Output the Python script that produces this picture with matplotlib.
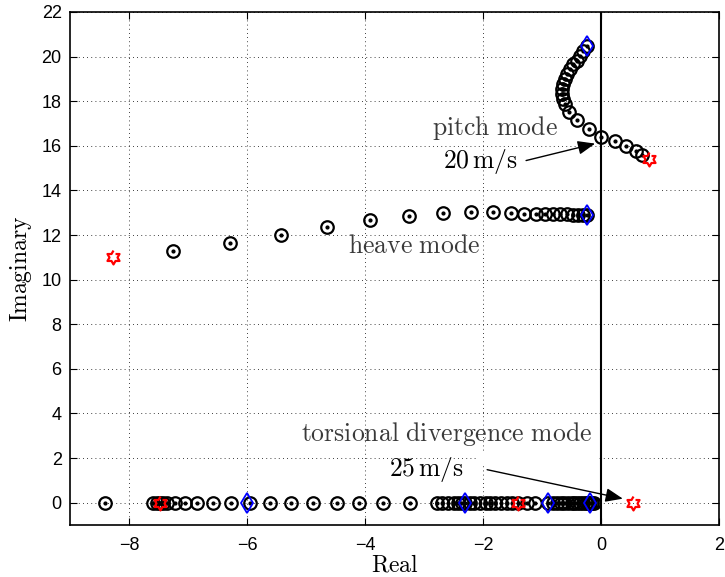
import matplotlib.pyplot as plt
import numpy as np

plt.rcParams['mathtext.fontset'] = 'cm'
plt.rcParams['font.family'] = ['Liberation Sans', 'DejaVu Sans']

# pitch mode root locus
pitch_re = [-0.24, -0.31, -0.36, -0.41, -0.47, -0.53, -0.58, -0.61, -0.64, -0.66,
            -0.66, -0.64, -0.61, -0.54, -0.41, -0.20, 0.0, 0.24, 0.42, 0.59, 0.69]
pitch_im = [20.49, 20.27, 20.04, 19.82, 19.69, 19.46, 19.24, 19.01, 18.79, 18.57,
            18.34, 18.12, 17.89, 17.53, 17.17, 16.77, 16.41, 16.23, 16.01, 15.78, 15.61]

# heave mode root locus
heave_re = [-7.25, -6.29, -5.42, -4.64, -3.92, -3.25, -2.68, -2.20, -1.83, -1.53,
            -1.31, -1.10, -0.95, -0.81, -0.69, -0.58, -0.47, -0.39, -0.31, -0.24]
heave_im = [11.30, 11.66, 12.02, 12.38, 12.69, 12.87, 13.00, 13.05, 13.05, 13.00,
            12.96, 12.96, 12.95, 12.94, 12.94, 12.93, 12.92, 12.92, 12.91, 12.91]

# real roots (torsional divergence and aerodynamic lag states)
real_re = [-8.41, -7.59, -7.53, -7.47, -7.42, -7.36, -7.22, -7.05, -6.85, -6.58,
           -6.27, -5.95, -5.61, -5.25, -4.88, -4.47, -4.10, -3.69, -3.24, -2.78,
           -2.69, -2.60, -2.50, -2.42, -2.36, -2.30, -2.22, -2.15, -2.05, -1.95,
           -1.88, -1.80, -1.70, -1.60, -1.51, -1.41, -1.25, -1.12, -0.90, -0.81,
           -0.75, -0.68, -0.62, -0.56, -0.50, -0.45, -0.40, -0.35, -0.30, -0.26,
           -0.22, -0.19, -0.15, -0.12]
real_im = [0.0] * len(real_re)

# start (V = 0) and end points of the loci
start_re = [-0.24, -0.24, -6.0, -2.3, -0.9, -0.19]
start_im = [20.49, 12.91, 0.0, 0.0, 0.0, 0.0]
end_re = [0.81, -8.27, -7.47, -1.41, 0.54]
end_im = [15.43, 11.03, 0.0, 0.0, 0.0]

# six pointed star marker
ang = np.deg2rad(90 + 30 * np.arange(12))
rad = np.where(np.arange(12) % 2 == 0, 1.0, 0.58)
hexagram = list(zip(rad * np.cos(ang), rad * np.sin(ang)))

fig = plt.figure(figsize=(7.25, 5.77), dpi=100)
ax = fig.add_axes([70 / 725, 1 - 525 / 577, 649 / 725, 513 / 577])

ax.axvline(0, color='k', lw=1.5, zorder=2.5)

for re, im in [(pitch_re, pitch_im), (heave_re, heave_im), (real_re, real_im)]:
    ax.plot(re, im, 'o', mfc='none', mec='k', ms=9, mew=1.6, zorder=3)
    ax.plot(re, im, '.', color='k', ms=4, zorder=3)

ax.plot(start_re, start_im, 'd', mfc='none', mec='b', ms=10, mew=1.3, zorder=4)
ax.plot(end_re, end_im, marker=hexagram, ls='none', mfc='none', mec='r',
        ms=10, mew=1.6, zorder=4)

ax.set_xlim(-9, 2)
ax.set_ylim(-1, 22)
ax.set_xticks(np.arange(-8, 3, 2))
ax.set_yticks(np.arange(0, 23, 2))
ax.tick_params(direction='in', top=True, right=True, labelsize=13, length=5)
ax.tick_params(axis='x', pad=9)
ax.tick_params(axis='y', pad=6)
ax.grid(True, color='k', ls=(0, (1, 4)), lw=0.6)
for s in ax.spines.values():
    s.set_linewidth(1.2)

ax.set_xlabel(r'$\mathrm{Real}$', fontsize=17)
ax.set_ylabel(r'$\mathrm{Imaginary}$', fontsize=17)
ax.xaxis.set_label_coords(0.5, -0.058)
ax.yaxis.set_label_coords(-0.055, 0.5)

gray = '#3a3a3a'
ax.text(-1.8, 16.8, r'$\mathrm{pitch\ mode}$', fontsize=18.5, color=gray,
        ha='center', va='center')
ax.text(-3.17, 11.5, r'$\mathrm{heave\ mode}$', fontsize=18.5, color=gray,
        ha='center', va='center')
ax.text(-2.61, 3.1, r'$\mathrm{torsional\ divergence\ mode}$', fontsize=18.5,
        color=gray, ha='center', va='center', zorder=5)
ax.text(-2.05, 15.3, r'$20\,\mathrm{m/s}$', fontsize=18.5, color='k',
        ha='center', va='center')
ax.text(-2.95, 1.48, r'$25\,\mathrm{m/s}$', fontsize=18.5, color='k',
        ha='center', va='center')

# white box behind the lower arrow, as in the original
ax.fill_between([-2.1, -0.03], 1.75, 2.25, color='w', lw=0, zorder=2)

head = '-|>,head_length=0.75,head_width=0.3'
ax.annotate('', xy=(-0.10, 16.1), xytext=(-1.27, 15.34),
            arrowprops=dict(arrowstyle=head, mutation_scale=14, color='k',
                            lw=1, shrinkA=0, shrinkB=0))
ax.annotate('', xy=(0.37, 0.18), xytext=(-1.93, 1.48),
            arrowprops=dict(arrowstyle=head, mutation_scale=14, color='k',
                            lw=1, shrinkA=0, shrinkB=0))

fig.savefig('out.png', dpi=100)
